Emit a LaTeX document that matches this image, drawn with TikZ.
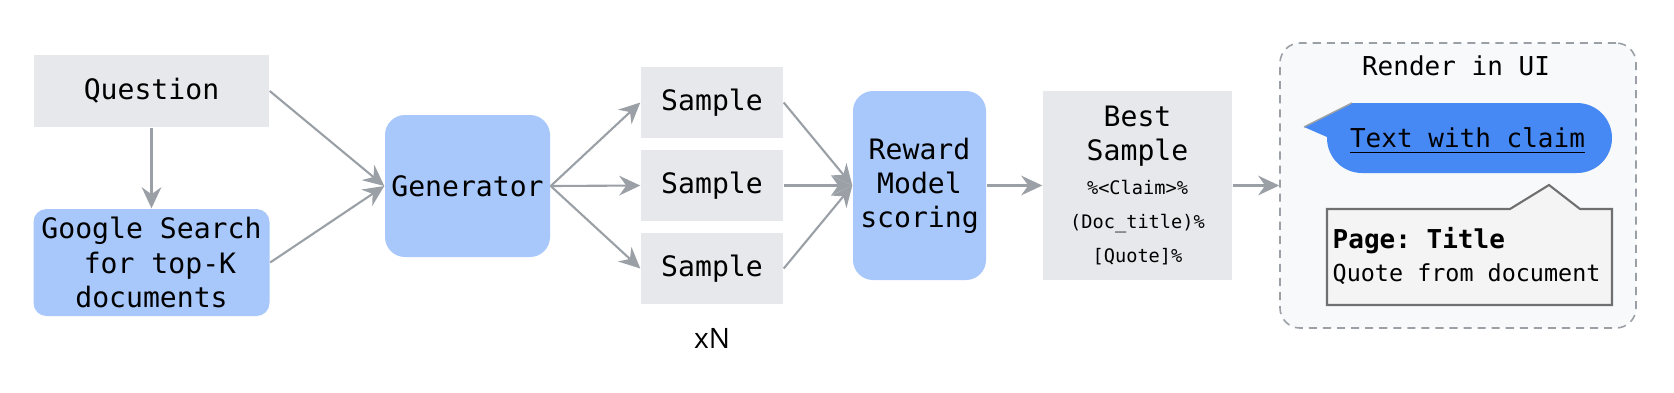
\documentclass[tikz,border=0pt]{standalone}
\usepackage{fontspec}
\setmonofont{DejaVu Sans Mono}
\newfontfamily\labelsans{Open Sans}
\usetikzlibrary{arrows.meta}
\definecolor{boxgray}{HTML}{E6E8EC}
\definecolor{genblue}{HTML}{A8C7FA}
\definecolor{chatblue}{HTML}{4689F5}
\definecolor{wire}{HTML}{9AA0A6}
\definecolor{panel}{HTML}{F8F9FA}
\definecolor{popfill}{HTML}{F4F4F4}
\definecolor{popline}{HTML}{707070}
\newcommand{\smallcode}{\fontsize{5.3}{9.7}\selectfont}
\newcommand{\uitext}{\fontsize{7.4}{9.7}\selectfont}

\begin{document}
\begin{tikzpicture}[>={Stealth[length=6pt,width=5.6pt,inset=2pt]},
    font=\ttfamily\fontsize{8}{9.7}\selectfont,
    flat/.style={fill=boxgray, inner sep=0pt, align=center},
    soft/.style={fill=genblue, rounded corners=#1, inner sep=0pt, align=center},
    link/.style={->, wire, line width=0.6pt}]
    \useasboundingbox (0,0) rectangle (16.74,-3.92);
    \node[flat, minimum width=2.35cm, minimum height=0.72cm] (question) at (1.515,-0.91) {Question};
    \node[soft=0.13cm, minimum width=2.36cm, minimum height=1.07cm] (search) at (1.515,-2.625) {Google Search\\\hphantom{x}for top-K\\documents};
    \node[soft=0.2cm, minimum width=1.65cm, minimum height=1.42cm] (gen) at (4.675,-1.86) {Generator};
    \foreach \i/\y in {1/-1.025,2/-1.855,3/-2.685}
      \node[flat, minimum width=1.42cm, minimum height=0.71cm] (sample\i) at (7.12,\y) {Sample};
    \node[soft=0.2cm, minimum width=1.33cm, minimum height=1.89cm] (reward) at (9.195,-1.855) {Reward\\Model\\scoring};
    \node[flat, minimum width=1.89cm, minimum height=1.89cm] (best) at (11.375,-1.855) {Best\\Sample\\{\smallcode\%<Claim>\%}\\{\smallcode(Doc\_title)\%}\\{\smallcode[Quote]\%}};
    \node[font=\labelsans\fontsize{8}{9.7}\selectfont] (copies) at (7.12,-3.38) {xN};
    % render panel
    \node[draw=wire, fill=panel, dash pattern=on 2.3pt off 1.7pt, line width=0.45pt, rounded corners=0.2cm,
      minimum width=3.56cm, minimum height=2.85cm] (render) at (14.58,-1.855) {};
    \node[anchor=base, font=\ttfamily\uitext] (rendertitle) at (14.56,-0.75) {Render in UI};
    \fill[chatblue] (13.52,-1.03) -- (15.77,-1.03) arc[start angle=90, end angle=-90, radius=0.35]
      -- (13.62,-1.73) arc[start angle=270, end angle=180, radius=0.35] -- (13.27,-1.37) -- (13.04,-1.27) -- cycle;
    \draw[wire, line width=0.4pt] (13.04,-1.27) -- (13.52,-1.03);
    \node[anchor=base, font=\ttfamily\uitext] (claim) at (14.675,-1.47) {\underline{Text with claim}};
    \draw[popline, fill=popfill, line width=0.6pt] (13.27,-2.09) -- (15.10,-2.09) -- (15.49,-1.85) -- (15.80,-2.09)
      -- (16.12,-2.09) -- (16.12,-3.05) -- (13.27,-3.05) -- cycle;
    \node[anchor=base west, inner sep=0pt, font=\ttfamily\uitext\bfseries] (pagetitle) at (13.32,-2.48) {Page: Title};
    \node[anchor=base west, inner sep=0pt, font=\ttfamily\fontsize{6.66}{8}\selectfont] (quote) at (13.32,-2.81) {Quote from document};
    % connectors
    \draw[link] (question.south) -- (search.north);
    \draw[link] (question.east) -- (gen.west);
    \draw[link] (search.east) -- (gen.west);
    \foreach \i in {1,2,3} {
      \draw[link] (gen.east) -- (sample\i.west);
      \draw[link] (sample\i.east) -- (reward.west);
    }
    \draw[link] (reward) -- (best);
    \draw[link] (best) -- (render);
\end{tikzpicture}
\end{document}
